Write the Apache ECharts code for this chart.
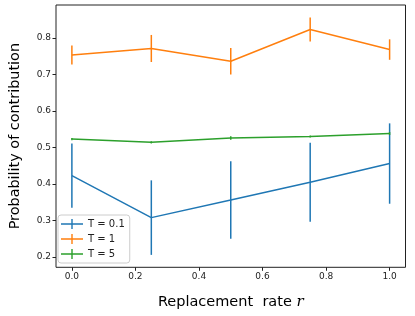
<!DOCTYPE html>
<html>
<head>
<meta charset="utf-8">
<script src="https://cdn.jsdelivr.net/npm/echarts@6/dist/echarts.min.js"></script>
<style>html,body{margin:0;padding:0;background:#fff}#c{width:415px;height:316px}</style>
</head>
<body>
<div id="c"></div>
<script>
const rates = [0.0, 0.25, 0.5, 0.75, 1.0];
const seriesNames = ['T = 0.1', 'T = 1', 'T = 5'];
const meanT01 = [0.423, 0.308, 0.356, 0.405, 0.456];
const errT01  = [0.088, 0.102, 0.106, 0.108, 0.110];
const meanT1  = [0.753, 0.771, 0.736, 0.823, 0.768];
const errT1   = [0.026, 0.037, 0.036, 0.033, 0.028];
const meanT5  = [0.523, 0.514, 0.526, 0.530, 0.538];
const errT5   = [0.003, 0.003, 0.005, 0.003, 0.004];
const xTicks = [0.0, 0.2, 0.4, 0.6, 0.8, 1.0];
const yTicks = [0.2, 0.3, 0.4, 0.5, 0.6, 0.7, 0.8];
const colors = ['#1f77b4', '#ff7f0e', '#2ca02c'];

const means = [meanT01, meanT1, meanT5];
const errs = [errT01, errT1, errT5];

const chart = echarts.init(document.getElementById('c'), null, {renderer: 'canvas'});
const font = 'DejaVu Sans';
const series = [];
means.forEach((m, i) => {
  series.push({
    type: 'line', name: seriesNames[i], color: colors[i],
    data: rates.map((r, k) => [r, m[k]]),
    showSymbol: false, symbol: 'none',
    lineStyle: {width: 1.5, color: colors[i]},
    z: 3
  });
  series.push({
    type: 'custom', name: seriesNames[i], color: colors[i],
    data: rates.map((r, k) => [r, m[k], errs[i][k]]),
    renderItem: function (params, api) {
      const x = api.value(0), y = api.value(1), e = api.value(2);
      const p1 = api.coord([x, y - e]);
      const p2 = api.coord([x, y + e]);
      return {type: 'line', shape: {x1: p1[0], y1: p1[1], x2: p2[0], y2: p2[1]},
        style: {stroke: colors[i], lineWidth: 1.5}};
    },
    z: 3
  });
});

const icon = 'path://M0,4.3 H22 V5.7 H0 Z M10.3,0 H11.7 V10 H10.3 Z';
chart.setOption({
  animation: false,
  textStyle: {fontFamily: font},
  grid: {left: 53, right: 9.5, top: 5, bottom: 48.7, show: true, borderColor: '#222', borderWidth: 1, backgroundColor: 'transparent'},
  xAxis: {
    type: 'value', min: -0.05, max: 1.05,
    axisLine: {show: false, onZero: false},
    splitLine: {show: false},
    axisTick: {show: true, customValues: xTicks, length: 3.5, lineStyle: {color: '#222'}},
    axisLabel: {customValues: xTicks, formatter: v => v.toFixed(1), color: '#222', fontSize: 9, fontFamily: font, margin: 5},
    name: 'Replacement  rate {r|r}', nameLocation: 'middle', nameGap: 27,
    nameTextStyle: {fontSize: 14.5, color: '#000', fontFamily: font,
      rich: {r: {fontFamily: 'DejaVu Serif', fontStyle: 'italic', fontSize: 15, color: '#000'}}}
  },
  yAxis: {
    type: 'value', min: 0.172, max: 0.890,
    axisLine: {show: false, onZero: false},
    splitLine: {show: false},
    axisTick: {show: true, customValues: yTicks, length: 3.5, lineStyle: {color: '#222'}},
    axisLabel: {customValues: yTicks, formatter: v => v.toFixed(1), color: '#222', fontSize: 9, fontFamily: font, margin: 5},
    name: 'Probability of contribution', nameLocation: 'middle', nameGap: 34,
    nameTextStyle: {fontSize: 14.4, color: '#000', fontFamily: font}
  },
  legend: {
    orient: 'vertical', left: 58, top: 215,
    data: seriesNames.map(n => ({name: n, icon: icon})),
    itemWidth: 22, itemHeight: 10, itemGap: 5,
    padding: [4, 5, 4, 3],
    backgroundColor: 'rgba(255,255,255,0.8)', borderColor: '#ccc', borderWidth: 1, borderRadius: 3,
    textStyle: {fontSize: 10, color: '#222', fontFamily: font}
  },
  series: series
});
</script>
</body>
</html>
